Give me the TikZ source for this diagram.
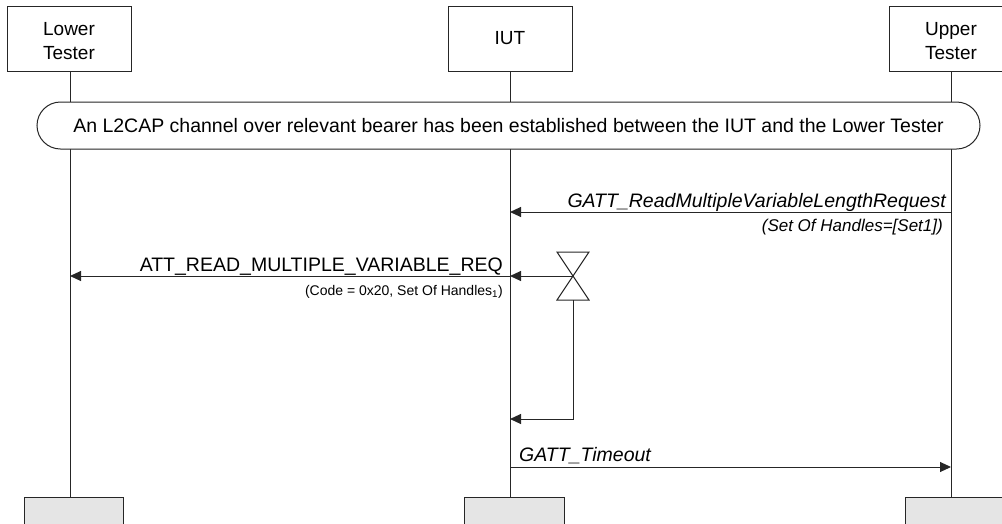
\documentclass[tikz,border=0pt]{standalone}
\usepackage{fontspec}
\setmainfont{Liberation Sans}
\usetikzlibrary{arrows.meta,shapes.misc}
\begin{document}
\begin{tikzpicture}[x=1pt,y=-1pt,
  lw/.style={line width=1pt, draw=black!85},
  topbox/.style={lw, fill=white, minimum width=124pt, minimum height=65pt, inner sep=0pt, align=center, font=\fontsize{19}{24}\selectfont},
  botbox/.style={lw, fill=black!10},
  msg/.style={lw, -{Triangle[length=11pt,width=10pt]}},
  lbl/.style={font=\fontsize{19.5}{22}\selectfont, inner sep=0pt},
  ilbl/.style={font=\itshape\fontsize{19.5}{22}\selectfont, inner sep=0pt},
  sublbl/.style={font=\fontsize{14}{16}\selectfont, inner sep=0pt},
  isublbl/.style={font=\itshape\fontsize{17}{18}\selectfont, inner sep=0pt},
  banner/.style={lw, rounded rectangle, fill=white, minimum width=943pt, minimum height=47pt, inner sep=0pt, font=\fontsize{19.5}{22}\selectfont}
]
\useasboundingbox (0,0) rectangle (1002,523);
% lifelines
\coordinate (LT) at (70,71);
\coordinate (IT) at (510,71);
\coordinate (UT) at (951,71);
\coordinate (LB) at (70,497);
\coordinate (IB) at (510,497);
\coordinate (UB) at (951,497);
\draw[lw] (LT) -- (LB);
\draw[lw] (IT) -- (IB);
\draw[lw] (UT) -- (UB);
% top boxes
\node[topbox] (lower) at (69,38.5) {};
\node[font=\fontsize{19}{24}\selectfont, align=center, inner sep=0pt] (lowert) at (69,41) {Lower\\Tester};
\node[topbox] (iut) at (510,38.5) {IUT};
\node[topbox] (upper) at (951,38.5) {};
\node[font=\fontsize{19}{24}\selectfont, align=center, inner sep=0pt] (uppert) at (951,41) {Upper\\Tester};
% bottom boxes
\draw[botbox] (24,497) rectangle (123,530);
\draw[botbox] (464,497) rectangle (564,530);
\draw[botbox] (905,497) rectangle (1005,530);
% banner
\node[banner] (ban) at (508.5,125.5) {An L2CAP channel over relevant bearer has been established between the IUT and the Lower Tester};
% GATT request
\coordinate (u1) at (951,212);
\coordinate (i1) at (510,212);
\draw[msg] (u1) -- (i1);
\node[ilbl, anchor=base east] (m1) at (946,207) {GATT\_ReadMultipleVariableLengthRequest};
\node[isublbl, anchor=east] (m1s) at (943,227) {(Set Of Handles=[Set1])};
% timer
\coordinate (tc) at (573,276);
\draw[lw] (557,252) -- (589,252) -- (557,300) -- (589,300) -- cycle;
\coordinate (tb) at (573,300);
\coordinate (i2) at (510,276);
\coordinate (l2) at (70,276);
\draw[msg] (tc) -- (i2);
\draw[msg] (i2) -- (l2);
\node[lbl, anchor=base east] (m2) at (503,271) {ATT\_READ\_MULTIPLE\_VARIABLE\_REQ};
\node[sublbl, anchor=east] (m2s) at (503,292) {(Code = 0x20, Set Of Handles\textsubscript{1})};
% timeout
\coordinate (tcorner) at (573,419);
\coordinate (i3) at (510,419);
\draw[msg] (tb) -- (tcorner) -- (i3);
% GATT timeout
\coordinate (i4) at (510,467);
\coordinate (u4) at (951,467);
\draw[msg] (i4) -- (u4);
\node[ilbl, anchor=base west] (m4) at (519,461) {GATT\_Timeout};
\end{tikzpicture}
\end{document}
